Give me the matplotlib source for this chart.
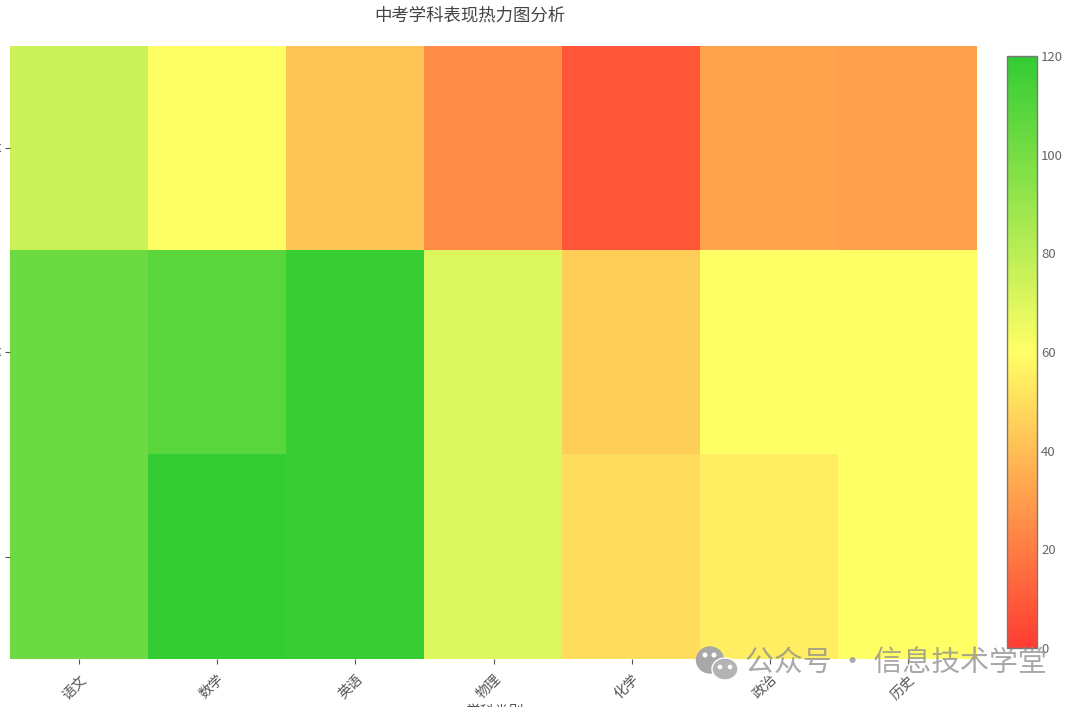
import matplotlib
matplotlib.use('Agg')
import matplotlib.pyplot as plt
import numpy as np
from matplotlib.colors import LinearSegmentedColormap
from matplotlib.patches import Ellipse, Circle
from matplotlib.transforms import ScaledTranslation

plt.rcParams['font.family'] = ['Noto Sans CJK SC', 'DejaVu Sans']

subjects = ['语文', '数学', '英语', '物理', '化学', '政治', '历史']
levels = ['优秀率', '良好率', '及格率']
excellent = [75, 60, 42, 25, 8, 32, 31]
good = [103, 108, 118, 70, 45, 60, 60]
passed = [103, 120, 118, 70, 50, 55, 60]
scores = np.array([excellent, good, passed])
cbar_ticks = [0, 20, 40, 60, 80, 100, 120]

W, H = 1080, 707
fig = plt.figure(figsize=(W / 100, H / 100), dpi=100)
ax = fig.add_axes([10 / W, 1 - 659 / H, 967 / W, 613 / H])

# 红-黄-绿, 颜色已经按透明度0.8混过白色
cmap = LinearSegmentedColormap.from_list('ryg', ['#ff3c32', '#ffff66', '#33cc33'])
im = ax.imshow(scores, cmap=cmap, vmin=0, vmax=120, aspect='auto', interpolation='nearest')

for s in ax.spines.values():
    s.set_visible(False)
ax.set_xticks(range(len(subjects)))
ax.set_xticklabels(subjects, rotation=45, ha='center', fontsize=10, color='#555555')
ax.set_yticks(range(len(levels)))
ax.set_yticklabels(levels, fontsize=10, color='#555555')
ax.tick_params(axis='x', length=3.6, width=0.8, color='#555555', pad=6)
ax.tick_params(axis='y', length=3.6, width=0.8, color='#555555', pad=2.4)
# 标签往左挪一点, 让末端对着刻度
shift = ScaledTranslation(-5 / 100, 0, fig.dpi_scale_trans)
for lab in ax.get_xticklabels():
    lab.set_transform(lab.get_transform() + shift)

# 原图的x轴标题被底边裁掉了一半
fig.text(494 / W, 1 - 712 / H, '学科类别', fontsize=10.5, color='#555555',
         ha='center', va='center')
fig.text(470 / W, 1 - 15 / H, '中考学科表现热力图分析', fontsize=12.5, color='#444444',
         ha='center', va='center')

# 颜色条
cax = fig.add_axes([1007 / W, 1 - 648 / H, 30 / W, 592 / H])
cb = fig.colorbar(im, cax=cax, ticks=cbar_ticks)
cb.outline.set_edgecolor('#777777')
cb.outline.set_linewidth(1)
cax.tick_params(length=0, pad=3, labelsize=9.5, labelcolor='#666666')

# 水印
wm = fig.add_axes([0, 0, 1, 1])
wm.set_xlim(0, W)
wm.set_ylim(H, 0)
wm.axis('off')
wm.patch.set_alpha(0)
wm.add_patch(Ellipse((710, 660), 27, 26, color='#a8a8a8'))
wm.add_patch(Ellipse((725, 669), 26, 22, fc='#b4b4b4', ec='white', lw=1))
for ex, ey in [(705, 655), (714, 655)]:
    wm.add_patch(Circle((ex, ey), 1.8, color='white'))
for ex, ey in [(720, 667), (730, 667)]:
    wm.add_patch(Circle((ex, ey), 1.6, color='white'))
wm.text(745, 664, '公众号 · 信息技术学堂', fontsize=20.8, color='#8c8c8c', alpha=0.75,
        va='center', ha='left')

fig.savefig('out.png', dpi=100, facecolor='white')
